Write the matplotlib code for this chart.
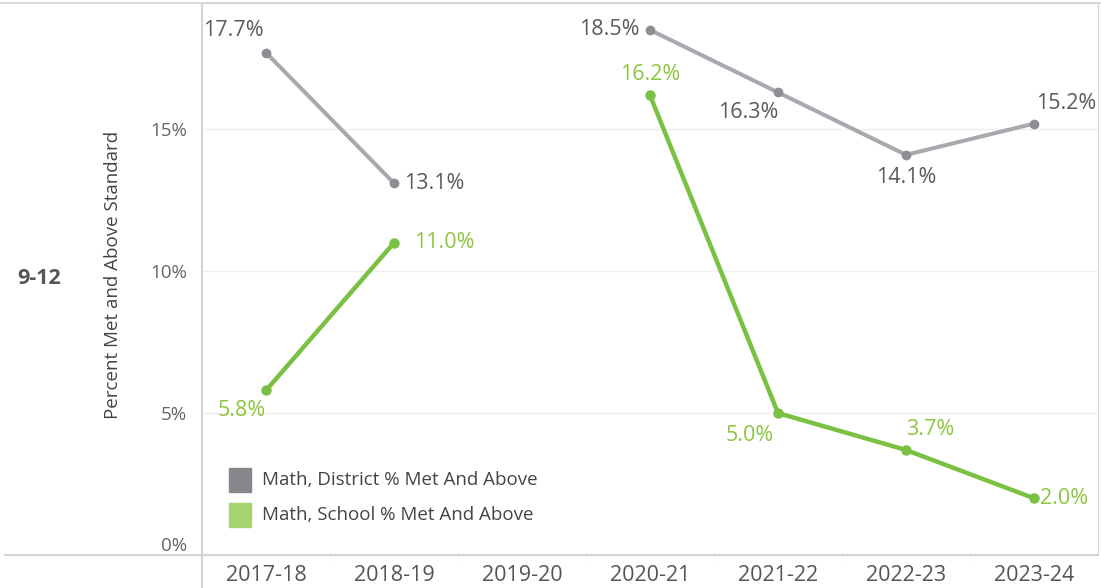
import numpy as np
import matplotlib.pyplot as plt
from matplotlib.lines import Line2D
from matplotlib.patches import Rectangle

plt.rcParams['font.family'] = ['Open Sans', 'DejaVu Sans']

years = ['2017-18', '2018-19', '2019-20', '2020-21', '2021-22', '2022-23', '2023-24']
district = [17.7, 13.1, np.nan, 18.5, 16.3, 14.1, 15.2]
school = [5.8, 11.0, np.nan, 16.2, 5.0, 3.7, 2.0]

# where each data label sits relative to its point: (dx px, dy px, ha, va)
district_pos = [(-2, 12, 'right', 'bottom'), (10, 0, 'left', 'center'), None,
                (-10, 0, 'right', 'center'), (0, -10, 'right', 'top'),
                (0, -12, 'center', 'top'), (2, 10, 'left', 'bottom')]
school_pos = [(0, -10, 'right', 'top'), (20, 0, 'left', 'center'), None,
              (0, 10, 'center', 'bottom'), (-4, -12, 'right', 'top'),
              (0, 10, 'left', 'bottom'), (6, 0, 'left', 'center')]

GRAY_LINE = '#a8a8ae'
GRAY_MARK = '#8d8d94'
GRAY_TEXT = '#5b5b5f'
GREEN = '#7ac143'
GREEN_TEXT = '#8cc63f'
AXIS = '#d4d4d4'

fig = plt.figure(figsize=(11.01, 5.88), dpi=100)
ax = fig.add_axes([202 / 1101, 33 / 588, 896 / 1101, 552 / 588])

x = np.arange(len(years))
ax.plot(x, district, color=GRAY_LINE, lw=2.9, zorder=3)
ax.plot(x, district, 'o', color=GRAY_MARK, ms=6, zorder=4)
ax.plot(x, school, color=GREEN, lw=3.2, zorder=3)
ax.plot(x, school, 'o', color=GREEN, ms=6.5, zorder=4)

for i, v in enumerate(district):
    if district_pos[i] is None:
        continue
    dx, dy, ha, va = district_pos[i]
    ax.annotate(f'{v:.1f}%', (i, v), xytext=(dx * 0.72, dy * 0.72), textcoords='offset points',
                ha=ha, va=va, fontsize=15.5, color=GRAY_TEXT, zorder=5)
for i, v in enumerate(school):
    if school_pos[i] is None:
        continue
    dx, dy, ha, va = school_pos[i]
    ax.annotate(f'{v:.1f}%', (i, v), xytext=(dx * 0.72, dy * 0.72), textcoords='offset points',
                ha=ha, va=va, fontsize=15.5, color=GREEN_TEXT, zorder=5)

ax.set_xlim(-0.5, len(years) - 0.5)
ax.set_ylim(0, 19.45)
ax.set_yticks([0, 5, 10, 15])
ax.set_yticklabels(['0%', '5%', '10%', '15%'], fontsize=13.5, color='#666666')
ax.get_yticklabels()[0].set_va('bottom')
ax.set_xticks(x)
ax.set_xticklabels(years, fontsize=15.5, color='#555555')
ax.set_xticks(np.arange(0.5, len(years) - 1, 1), minor=True)
ax.tick_params(axis='x', which='major', length=0, pad=7)
ax.tick_params(axis='x', which='minor', length=5, color='#ececec')
ax.tick_params(axis='y', length=0, pad=11)
ax.grid(axis='y', color='#efefef', lw=1)
ax.set_axisbelow(True)
for s in ['top', 'right']:
    ax.spines[s].set_color(AXIS)
ax.spines['left'].set_visible(False)
ax.spines['bottom'].set_visible(False)

# frame lines running past the plot area
fig.add_artist(Line2D([0, 1], [585 / 588, 585 / 588], color=AXIS, lw=1.2))
fig.add_artist(Line2D([5 / 1101, 1098 / 1101], [33 / 588, 33 / 588], color=AXIS, lw=1.5))
fig.add_artist(Line2D([202 / 1101, 202 / 1101], [0, 585 / 588], color=AXIS, lw=1.5))

fig.text(113 / 1101, 313 / 588, 'Percent Met and Above Standard', rotation=90,
         ha='center', va='center', fontsize=13.5, color='#444444')
fig.text(17 / 1101, 310 / 588, '9-12', ha='left', va='center', fontsize=15.5,
         fontweight='bold', color='#555555')

# legend
legend_items = ['Math, District % Met And Above', 'Math, School % Met And Above']
legend_colors = ['#86878c', '#a8d46f']
for k, (lab, col) in enumerate(zip(legend_items, legend_colors)):
    top = 468 + k * 35
    fig.add_artist(Rectangle((229 / 1101, (588 - top - 24) / 588), 22 / 1101, 24 / 588,
                             color=col, transform=fig.transFigure))
    fig.text(262 / 1101, (588 - top - 12) / 588, lab, ha='left', va='center',
             fontsize=13.5, color='#444444')

fig.savefig('out.png', dpi=100)
